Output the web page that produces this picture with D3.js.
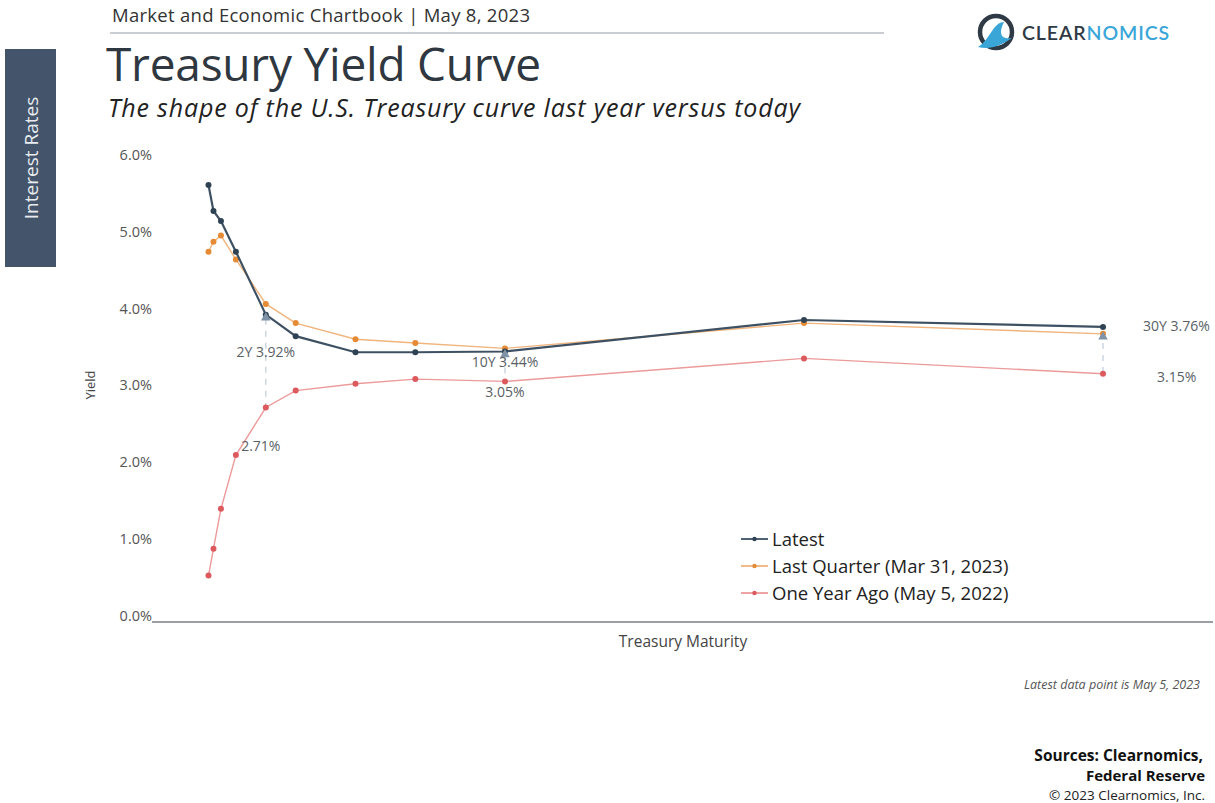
<!DOCTYPE html>
<html>
<head>
<meta charset="utf-8">
<script src="https://cdn.jsdelivr.net/npm/d3@7"></script>
<style>
  body { margin: 0; background: #fff; }
  svg { display: block; font-family: "Open Sans", "Noto Sans", sans-serif; }
</style>
</head>
<body>
<div id="chart"></div>
<script>
// maturities in years
const maturities = [1/12, 0.25, 0.5, 1, 2, 3, 5, 7, 10, 20, 30];
const maturityLabels = ["1M", "3M", "6M", "1Y", "2Y", "3Y", "5Y", "7Y", "10Y", "20Y", "30Y"];
const latest = [5.61, 5.27, 5.14, 4.74, 3.92, 3.64, 3.43, 3.43, 3.44, 3.85, 3.76];
const lastQuarter = [4.74, 4.87, 4.95, 4.64, 4.06, 3.81, 3.60, 3.55, 3.48, 3.81, 3.67];
const yearAgo = [0.52, 0.87, 1.39, 2.09, 2.71, 2.93, 3.02, 3.08, 3.05, 3.35, 3.15];
const yTicks = [0, 1, 2, 3, 4, 5, 6];
const seriesNames = ["Latest", "Last Quarter (Mar 31, 2023)", "One Year Ago (May 5, 2022)"];

const width = 1215, height = 803;

const svg = d3.select('#chart').append('svg')
  .attr('width', width)
  .attr('height', height);

// header
svg.append('text')
  .attr('x', 112).attr('y', 22)
  .attr('font-size', 18.5).attr('fill', '#333')
  .attr('textLength', 418)
  .text('Market and Economic Chartbook | May 8, 2023');
svg.append('line')
  .attr('x1', 110).attr('x2', 884).attr('y1', 33).attr('y2', 33)
  .attr('stroke', '#b8bcc2').attr('stroke-width', 1.5);

svg.append('text')
  .attr('x', 106).attr('y', 81)
  .attr('font-size', 46).attr('fill', '#2f3740')
  .attr('textLength', 435)
  .text('Treasury Yield Curve');
svg.append('text')
  .attr('x', 108).attr('y', 117)
  .attr('font-size', 25).attr('font-style', 'italic').attr('fill', '#222')
  .attr('textLength', 692)
  .text('The shape of the U.S. Treasury curve last year versus today');

// side tab
svg.append('rect')
  .attr('x', 5).attr('y', 49).attr('width', 51).attr('height', 218)
  .attr('fill', '#44546a');
svg.append('text')
  .attr('transform', 'translate(38,158) rotate(-90)')
  .attr('text-anchor', 'middle')
  .attr('font-size', 19).attr('fill', '#e8ecf0')
  .text('Interest Rates');

// logo
const logo = svg.append('g');
logo.append('circle')
  .attr('cx', 996).attr('cy', 32).attr('r', 16)
  .attr('fill', 'none').attr('stroke', '#2f3a44').attr('stroke-width', 4.5);
logo.append('path')
  .attr('d', 'M978,47 C990,40 993,22 1004,22 C1000,30 998,40 1012,38 C1000,46 990,50 978,47 Z')
  .attr('fill', '#3aa6d8');
logo.append('text')
  .attr('x', 1022).attr('y', 40)
  .attr('font-size', 19.5).attr('font-weight', 600).attr('letter-spacing', 0.9)
  .attr('font-family', 'Lato, "Open Sans", sans-serif')
  .call(t => {
    t.append('tspan').attr('fill', '#2f3a44').text('CLEAR');
    t.append('tspan').attr('fill', '#3aa6d8').text('NOMICS');
  });

// scales
const x = d3.scaleLinear().domain([0, 30]).range([206, 1103]);
const y = d3.scaleLinear().domain([0, 6]).range([615.5, 155]);

// y axis (labels only)
const yAxis = svg.append('g')
  .attr('transform', 'translate(152,0)')
  .call(d3.axisLeft(y).tickValues(yTicks).tickSize(0).tickPadding(0)
    .tickFormat(d => d.toFixed(1) + '%'));
yAxis.select('.domain').remove();
yAxis.selectAll('text')
  .attr('font-family', '"Open Sans", sans-serif')
  .attr('font-size', 14.5).attr('fill', '#555');

// x axis baseline
svg.append('line')
  .attr('x1', 152).attr('x2', 1213).attr('y1', 622).attr('y2', 622)
  .attr('stroke', '#9a9fa5').attr('stroke-width', 2);

svg.append('text')
  .attr('x', 683).attr('y', 647).attr('text-anchor', 'middle')
  .attr('font-size', 15.5).attr('fill', '#444')
  .text('Treasury Maturity');
svg.append('text')
  .attr('transform', 'translate(95,385) rotate(-90)')
  .attr('text-anchor', 'middle')
  .attr('font-size', 13).attr('fill', '#444')
  .text('Yield');

// series
const series = [
  { name: seriesNames[2], values: yearAgo, line: '#ec9a9a', dot: '#dc5a5e', w: 1.4, r: 3 },
  { name: seriesNames[1], values: lastQuarter, line: '#f0b47c', dot: '#e58a35', w: 1.4, r: 3 },
  { name: seriesNames[0], values: latest, line: '#3e5163', dot: '#2f4253', w: 2.2, r: 3 }
];

// dashed annotation guides
const annIdx = [4, 8, 10];
svg.selectAll('.guide')
  .data(annIdx)
  .enter().append('line')
  .attr('class', 'guide')
  .attr('x1', i => x(maturities[i])).attr('x2', i => x(maturities[i]))
  .attr('y1', i => y(latest[i]) + 4).attr('y2', i => y(yearAgo[i]))
  .attr('stroke', '#c5d0da').attr('stroke-width', 1.3)
  .attr('stroke-dasharray', '6,6');

const line = d3.line()
  .x((d, i) => x(maturities[i]))
  .y(d => y(d));

series.forEach(s => {
  svg.append('path')
    .datum(s.values)
    .attr('d', line)
    .attr('fill', 'none')
    .attr('stroke', s.line)
    .attr('stroke-width', s.w);
  svg.selectAll(null)
    .data(s.values)
    .enter().append('circle')
    .attr('cx', (d, i) => x(maturities[i]))
    .attr('cy', d => y(d))
    .attr('r', s.r)
    .attr('fill', s.dot);
});

// triangle markers on latest
const tri = d3.symbol().type(d3.symbolTriangle).size(40);
svg.selectAll('.tri')
  .data(annIdx)
  .enter().append('path')
  .attr('class', 'tri')
  .attr('d', tri)
  .attr('transform', i => `translate(${x(maturities[i])},${y(i === 10 ? lastQuarter[i] : latest[i]) + 3})`)
  .attr('fill', '#7f93a6');

// annotation labels
const annLabels = [
  { i: 4, text: maturityLabels[4] + ' ' + latest[4].toFixed(2) + '%', dx: 0, y: 357, anchor: 'middle' },
  { i: 4, text: yearAgo[4].toFixed(2) + '%', dx: -5, y: 451, anchor: 'middle' },
  { i: 8, text: maturityLabels[8] + ' ' + latest[8].toFixed(2) + '%', dx: 0, y: 367, anchor: 'middle' },
  { i: 8, text: yearAgo[8].toFixed(2) + '%', dx: 0, y: 397, anchor: 'middle' },
  { i: 10, text: maturityLabels[10] + ' ' + latest[10].toFixed(2) + '%', dx: 40, y: 331, anchor: 'start' },
  { i: 10, text: yearAgo[10].toFixed(2) + '%', dx: 54, y: 382, anchor: 'start' }
];
svg.selectAll('.ann')
  .data(annLabels)
  .enter().append('text')
  .attr('class', 'ann')
  .attr('x', d => x(maturities[d.i]) + d.dx)
  .attr('y', d => d.y)
  .attr('text-anchor', d => d.anchor)
  .attr('font-size', 14).attr('fill', '#5a5f66')
  .text(d => d.text);

// legend
const legendSeries = series.slice().reverse();
const legend = svg.append('g').attr('transform', 'translate(741,539)');
legendSeries.forEach((s, k) => {
  const g = legend.append('g').attr('transform', `translate(0,${k * 27})`);
  g.append('line').attr('x1', 0).attr('x2', 27).attr('y1', 0).attr('y2', 0)
    .attr('stroke', s.line).attr('stroke-width', 1.8);
  g.append('circle').attr('cx', 13.5).attr('cy', 0).attr('r', 2.2).attr('fill', s.dot);
  g.append('text').attr('x', 31).attr('y', 6.5)
    .attr('font-size', 18.5).attr('fill', '#222')
    .text(s.name);
});

// footer
svg.append('text')
  .attr('x', 1200).attr('y', 689).attr('text-anchor', 'end')
  .attr('font-size', 12.5).attr('font-style', 'italic').attr('fill', '#555')
  .text('Latest data point is May 5, 2023');
svg.append('text')
  .attr('x', 1203).attr('y', 761).attr('text-anchor', 'end')
  .attr('font-size', 15.5).attr('font-weight', 700).attr('fill', '#111')
  .text('Sources: Clearnomics,');
svg.append('text')
  .attr('x', 1205).attr('y', 781).attr('text-anchor', 'end')
  .attr('font-size', 15).attr('font-weight', 700).attr('fill', '#111')
  .text('Federal Reserve');
svg.append('text')
  .attr('x', 1205).attr('y', 800).attr('text-anchor', 'end')
  .attr('font-size', 13.5).attr('fill', '#222')
  .text('© 2023 Clearnomics, Inc.');
</script>
</body>
</html>
